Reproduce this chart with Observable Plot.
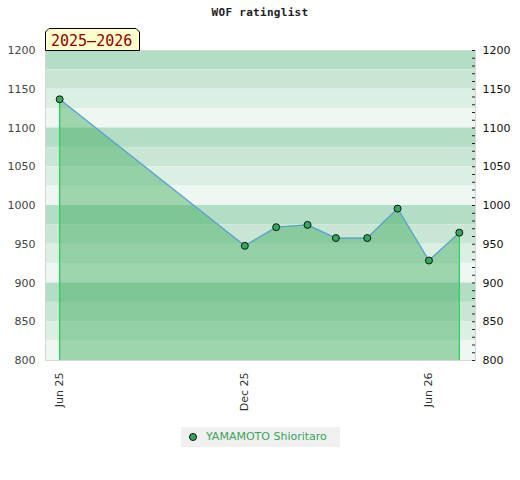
<!DOCTYPE html>
<html><head><meta charset="utf-8">
<script src="https://cdn.jsdelivr.net/npm/d3@7"></script>
<script src="https://cdn.jsdelivr.net/npm/@observablehq/plot@0.6"></script>
<style>
body{margin:0;background:#fff;}
#wrap{position:relative;width:520px;height:480px;font-family:"DejaVu Sans",sans-serif;}
#chart{position:absolute;left:0;top:0;}
#title{position:absolute;top:6px;left:0;width:520px;text-align:center;font:bold 11px "DejaVu Sans Mono",monospace;color:#222;letter-spacing:0.3px;}
#season{position:absolute;left:44px;top:27px;}
#legend{position:absolute;left:181px;top:427px;width:159px;height:20px;background:#f0f0f0;font-size:11px;}
#legend .dot{position:absolute;left:8px;top:6px;width:6px;height:6px;border-radius:50%;background:#34a85a;border:1px solid #111;}
#legend .lab{position:absolute;left:25px;top:3px;color:#37a55a;white-space:nowrap;}
</style></head>
<body><div id="wrap">
<div id="chart"></div>
<div id="title">WOF ratinglist</div>
<svg id="season" width="98" height="25"><polygon points="1.5,23.5 1.5,5 5,1.5 92,1.5 95.5,5 95.5,23.5" fill="#ffffcc" stroke="#000" stroke-width="1"/><text x="7" y="18.5" fill="#8b0000" font-family="DejaVu Sans Mono" font-size="15">2025–2026</text></svg>
<div id="legend"><span class="dot"></span><span class="lab" id="legLab"></span></div>
</div>
<script>
const player = "YAMAMOTO Shioritaro";
const dates = ["2025-06-01","2025-12-01","2026-01-01","2026-02-01","2026-03-01","2026-04-01","2026-05-01","2026-06-01","2026-07-01"];
const ratings = [1137, 948, 972, 975, 958, 958, 996, 929, 965];
const yTicks = [800, 850, 900, 950, 1000, 1050, 1100, 1150, 1200];
const yMinorTicks = [800,810,820,830,840,850,860,870,880,890,900,910,920,930,940,950,960,970,980,990,1000,1010,1020,1030,1040,1050,1060,1070,1080,1090,1100,1110,1120,1130,1140,1150,1160,1170,1180,1190,1200];
const xTicks = ["2025-06-01","2025-12-01","2026-06-01"];
const bandColors = ["#b3dec5","#c8e6d3","#dcefe3","#eef7f1"];

document.getElementById("legLab").textContent = player;

const data = dates.map((d, i) => ({date: new Date(d), rating: ratings[i]}));
const bands = d3.range(1200, 800, -25).map((top, i) => ({y1: top - 25, y2: top, fill: bandColors[i % 4]}));
const ends = [data[0], data[data.length - 1]];

const chart = Plot.plot({
  width: 520, height: 480,
  marginTop: 50, marginLeft: 45, marginRight: 45, marginBottom: 120,
  style: {fontFamily: "DejaVu Sans", fontSize: "11px", background: "transparent"},
  x: {type: "utc", domain: [new Date("2025-05-18"), new Date("2026-07-17")], label: null},
  y: {domain: [800, 1200], label: null},
  color: {type: "identity"},
  marks: [
    Plot.rect(bands, {y1: "y1", y2: "y2", fill: "fill"}),
    Plot.areaY(data, {x: "date", y1: 800, y2: "rating", fill: "rgb(60,170,90)", fillOpacity: 0.45}),
    Plot.ruleX(ends, {x: "date", y1: 800, y2: "rating", stroke: "#2fd060", strokeWidth: 1.4}),
    Plot.line(data, {x: "date", y: "rating", stroke: "#5a9fd6", strokeWidth: 1.3}),
    Plot.dot(data, {x: "date", y: "rating", r: 3.5, fill: "#34a85a", stroke: "#151515", strokeWidth: 1}),
    Plot.frame({stroke: "#d6d6d6"}),
    Plot.tickY(yMinorTicks, {y: d => d, insetLeft: 427, stroke: "#222"}),
    Plot.axisY(yTicks, {anchor: "left", tickSize: 0, tickPadding: 10, color: "#444", tickFormat: d => String(d)}),
    Plot.axisY(yTicks, {anchor: "right", tickSize: 0, tickPadding: 7, color: "#111", tickFormat: d => String(d)}),
    Plot.axisX(xTicks.map(d => new Date(d)), {tickFormat: d3.utcFormat("%b %y"), tickRotate: -90, tickSize: 0, tickPadding: 12, color: "#333"})
  ]
});
document.getElementById("chart").append(chart);
</script>
</body></html>
